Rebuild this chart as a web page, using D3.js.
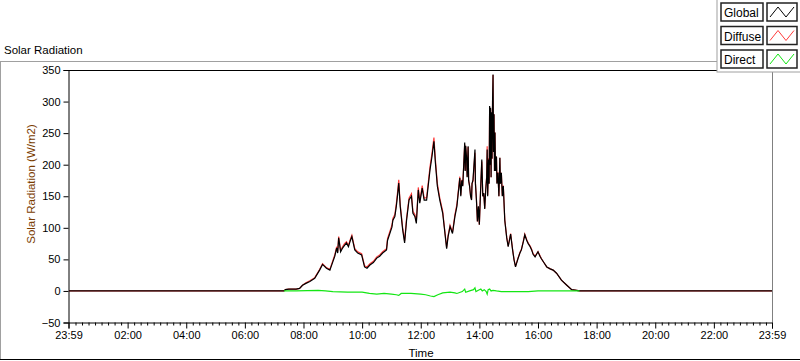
<!DOCTYPE html>
<html><head><meta charset="utf-8">
<script src="https://cdn.jsdelivr.net/npm/d3@7"></script>
<style>
html,body{margin:0;padding:0;background:#fff;}
svg text{font-family:"Liberation Sans",Arial,sans-serif;}
</style></head>
<body><svg id="c" width="800" height="361"></svg>
<script>
// ---- data ----
const times = ["00:00","07:20","07:23","07:30","07:45","07:52","07:58","08:05","08:13","08:23","08:33","08:39","08:47","08:54","09:00","09:04","09:08","09:10","09:12","09:16","09:20","09:24","09:28","09:32","09:36","09:39","09:45","09:51","09:59","10:05","10:10","10:16","10:23","10:30","10:36","10:42","10:50","10:52","11:01","11:03","11:07","11:10","11:13","11:15","11:18","11:23","11:27","11:31","11:36","11:41","11:44","11:48","11:51","11:55","11:58","12:03","12:07","12:12","12:19","12:23","12:27","12:30","12:34","12:39","12:45","12:48","12:53","12:56","13:00","13:05","13:10","13:14","13:20","13:22","13:24","13:26","13:28","13:30","13:31","13:32","13:34","13:35","13:37","13:38","13:40","13:42","13:44","13:45","13:47","13:49","13:51","13:52","13:54","13:56","13:58","14:00","14:01","14:03","14:05","14:07","14:09","14:11","14:13","14:15","14:16","14:17","14:19","14:20","14:21","14:22","14:23","14:24","14:25","14:26","14:27","14:28","14:29","14:30","14:31","14:32","14:33","14:35","14:36","14:38","14:40","14:42","14:43","14:45","14:47","14:49","14:52","14:56","14:59","15:04","15:08","15:11","15:14","15:19","15:23","15:26","15:30","15:33","15:37","15:40","15:44","15:47","15:50","15:54","16:00","16:04","16:07","16:12","16:18","16:25","16:31","16:38","16:48","16:59","17:09","17:19","17:25","23:59"];
const globalRad = [0,0,2,3,3,4,9,12,15,20,33,42,36,33,46,55,68,60,84,62,68,72,76,70,80,86,65,60,57,38,36,41,45,52,55,60,65,80,101,112,118,134,155,171,134,97,76,112,144,150,123,118,107,160,139,163,144,144,192,213,237,203,166,144,123,102,67,86,102,91,118,134,179,150,175,166,200,235,190,230,208,180,229,175,166,150,144,170,176,200,224,170,144,110,134,105,128,170,208,150,155,130,160,180,224,150,208,170,293,200,290,180,283,210,300,343,220,280,190,251,190,213,170,187,150,211,170,187,150,166,112,84,70,90,65,49,38,51,60,65,78,89,80,75,70,65,58,54,62,55,51,45,38,35,33,28,17,9,2,1,0,0];
const diffuseRad = [0,0,2,3,3,4,9,13,16,21,34,43,37,34,48,57,70,62,86,64,70,75,78,72,82,88,67,62,59,40,38,43,47,54,57,62,67,83,104,115,121,138,160,176,137,100,79,115,147,154,126,121,110,164,142,167,147,148,197,218,243,208,170,147,126,104,69,88,104,93,121,137,181,152,176,167,200,232,191,229,210,181,228,176,166,151,145,170,174,197,219,170,145,110,133,105,128,168,205,150,154,131,161,182,229,152,210,170,290,199,288,180,281,209,299,342,220,280,190,251,190,213,171,188,150,211,170,187,151,167,113,85,71,91,66,50,39,52,61,66,79,90,81,76,71,66,59,55,62,56,51,45,38,35,33,28,17,9,2,1,0,0];
const directTimes = ["07:20","07:45","08:30","08:45","09:00","09:30","10:00","10:15","10:30","10:45","11:00","11:10","11:15","11:20","11:40","12:00","12:10","12:20","12:27","12:35","12:45","13:00","13:10","13:14","13:25","13:30","13:32","13:40","13:48","13:51","13:53","13:58","14:03","14:06","14:10","14:14","14:16","14:18","14:21","14:24","14:28","14:35","14:45","15:00","15:40","16:00","16:30","17:25"];
const directRad = [0,0,1,0,-1,-2,-2,-4,-5,-4,-5,-6,-7,-4,-4,-5,-6,-8,-9,-6,-3,-2,-3,-4,-1,3,-2,0,2,5,-1,1,3,0,2,-1,-5,2,3,0,1,0,-1,-1,-1,0,0,0];
const yTicks = [-50,0,50,100,150,200,250,300,350];
const xTickLabels = ["23:59","02:00","04:00","06:00","08:00","10:00","12:00","14:00","16:00","18:00","20:00","22:00","23:59"];
const seriesNames = ["Global","Diffuse","Direct"];
const seriesColors = ["#000000","#ff3b3b","#14e614"];

// ---- layout ----
const svg = d3.select("#c");
const L = 68.5, R = 772, T = 70, B = 322.5;
const toMin = s => { const [h,m] = s.split(":").map(Number); return h*60+m; };
const x = d3.scaleLinear().domain([-1, 1439]).range([L, R]);
const y = d3.scaleLinear().domain([-50, 350]).range([B, T]);

// outer frame
svg.append("line").attr("x1",0).attr("x2",717).attr("y1",61.5).attr("y2",61.5).attr("stroke","#a0a0a0");
svg.append("line").attr("x1",0.5).attr("x2",0.5).attr("y1",61).attr("y2",360).attr("stroke","#a0a0a0");
svg.append("line").attr("x1",0).attr("x2",800).attr("y1",359.5).attr("y2",359.5).attr("stroke","#000");
svg.append("text").attr("x",4).attr("y",54).attr("font-size","11.5px").attr("fill","#000").text("Solar Radiation");

// plot borders
svg.append("line").attr("x1",L).attr("x2",R).attr("y1",T+0.5).attr("y2",T+0.5).attr("stroke","#000");
svg.append("line").attr("x1",R+0.5).attr("x2",R+0.5).attr("y1",T).attr("y2",B).attr("stroke","#808080");

// y axis
const yAx = svg.append("g").attr("transform",`translate(${L},0)`)
  .call(d3.axisLeft(y).tickValues(yTicks).tickSize(5).tickPadding(3).tickFormat(d3.format("d")));
yAx.select(".domain").attr("stroke","#000");
yAx.selectAll("text").attr("font-size","11px").attr("fill","#000").attr("font-family","Liberation Sans, Arial, sans-serif");

// x axis: majors every 2h with first/last at the bounds
const majors = xTickLabels.map((lab,i)=> i===0 ? -1 : (i===xTickLabels.length-1 ? 1439 : i*120));
const minors = [];
for (let k=0;k<12;k++){ const a=k*120, b=(k+1)*120; for(let j=1;j<9;j++) minors.push(a + (b-a)*j/9); }
const xAx = svg.append("g").attr("transform",`translate(0,${B})`)
  .call(d3.axisBottom(x).tickValues(majors).tickSize(6).tickPadding(3).tickFormat((d,i)=>xTickLabels[i]));
xAx.select(".domain").attr("stroke","#000");
xAx.selectAll("text").attr("font-size","11px").attr("fill","#000").attr("font-family","Liberation Sans, Arial, sans-serif");
svg.append("g").attr("transform",`translate(0,${B})`)
  .call(d3.axisBottom(x).tickValues(minors).tickSize(3).tickFormat(""))
  .select(".domain").remove();

// axis labels
svg.append("text").attr("x",421).attr("y",357).attr("text-anchor","middle").attr("font-size","11.5px").attr("fill","#000").text("Time");
svg.append("text").attr("transform","translate(35,184) rotate(-90)").attr("text-anchor","middle").attr("font-size","11.5px").attr("fill","#7a3c00").text("Solar Radiation (W/m2)");

// series
const tm = times.map(toMin);
const mk = (tt, vals) => tt.map((t,i)=>({t, v: vals[i]}));
const line = d3.line().x(d=>x(d.t)).y(d=>y(d.v));
svg.append("clipPath").attr("id","pc").append("rect").attr("x",L).attr("y",T).attr("width",R-L).attr("height",B-T);
const g = svg.append("g").attr("clip-path","url(#pc)");
g.append("path").datum(mk(tm, diffuseRad)).attr("d",line).attr("fill","none").attr("stroke",seriesColors[1]).attr("stroke-width",1.2);
g.append("path").datum(mk(tm, globalRad)).attr("d",line).attr("fill","none").attr("stroke",seriesColors[0]).attr("stroke-width",1.2);
g.append("path").datum(mk(directTimes.map(toMin), directRad)).attr("d",line).attr("fill","none").attr("stroke",seriesColors[2]).attr("stroke-width",1.2);

// legend
const lg = svg.append("g");
lg.append("rect").attr("x",717).attr("y",-1).attr("width",84).attr("height",73).attr("fill","#fff").attr("stroke","#a0a0a0");
seriesNames.forEach((n,i)=>{
  const yy = 3 + i*23.5;
  lg.append("rect").attr("x",721).attr("y",yy).attr("width",42).attr("height",18).attr("fill","#fff").attr("stroke","#222").attr("stroke-width",1.5);
  lg.append("text").attr("x",724).attr("y",yy+14).attr("font-size","12px").attr("fill","#000").text(n);
  lg.append("rect").attr("x",767).attr("y",yy).attr("width",30).attr("height",18).attr("fill","#fff").attr("stroke","#222").attr("stroke-width",1.5);
  const sx = d3.scaleLinear().domain([0,3]).range([770,794]);
  const sy = d3.scaleLinear().domain([0,1]).range([yy+14,yy+4]);
  lg.append("path").datum([[0,0],[1,1],[2,0],[3,1]])
    .attr("d", d3.line().x(d=>sx(d[0])).y(d=>sy(d[1])))
    .attr("fill","none").attr("stroke",seriesColors[i]).attr("stroke-width",1);
});
</script></body></html>
